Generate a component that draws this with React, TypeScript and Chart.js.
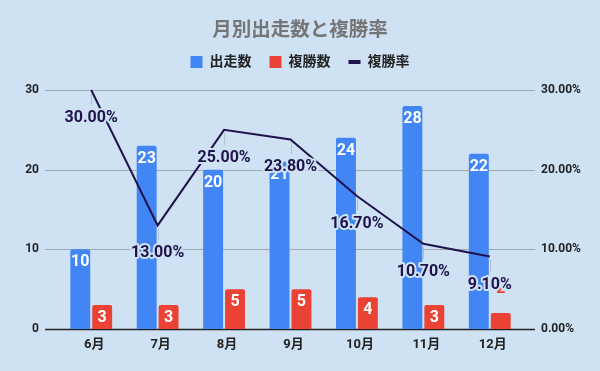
import React, { useEffect, useRef } from "react";
import { Chart, registerables } from "chart.js";

Chart.register(...registerables);

const categories = ["6月", "7月", "8月", "9月", "10月", "11月", "12月"];
const starts = [10, 23, 20, 21, 24, 28, 22];
const placed = [3, 3, 5, 5, 4, 3, 2];
const placeRate = [0.3, 0.13, 0.25, 0.238, 0.167, 0.107, 0.091];
const seriesNames = ["出走数", "複勝数", "複勝率"];
const titleText = "月別出走数と複勝率";

const BG = "#cfe2f3";
const BLUE = "#4285f4";
const RED = "#ea4335";
const NAVY = "#20124d";
const GRID = "#9ea9b4";
const FONT = "Roboto, 'Noto Sans CJK JP', sans-serif";

const fmtPct = (v: number) => (v * 100).toFixed(2) + "%";

const legendSpacer = {
  id: "legendSpacer",
  afterInit(chart: any) {
    const lg = chart.legend;
    if (lg && !lg.__patched) {
      const orig = lg.fit;
      lg.fit = function () {
        orig.call(this);
        this.height += 11;
      };
      lg.__patched = true;
    }
  },
};

const gridPlugin = {
  id: "extGrid",
  beforeDatasetsDraw(chart: any) {
    const { ctx, chartArea } = chart;
    const y = chart.scales.y;
    const x0 = chartArea.left - 13;
    const x1 = chartArea.right + 12;
    ctx.save();
    y.ticks.forEach((t: any) => {
      const py = Math.round(y.getPixelForValue(t.value)) + 0.5;
      ctx.beginPath();
      ctx.strokeStyle = t.value === 0 ? "#222" : GRID;
      ctx.lineWidth = t.value === 0 ? 1.5 : 1;
      ctx.moveTo(x0, py);
      ctx.lineTo(x1, py);
      ctx.stroke();
    });
    ctx.restore();
  },
};

const labelPlugin = {
  id: "valueLabels",
  afterDatasetsDraw(chart: any) {
    const { ctx } = chart;
    ctx.save();
    ctx.textAlign = "center";
    ctx.textBaseline = "middle";
    ctx.font = `bold 16px ${FONT}`;
    [0, 1].forEach((di) => {
      const meta = chart.getDatasetMeta(di);
      const ds = chart.data.datasets[di];
      meta.data.forEach((el: any, j: number) => {
        const v = ds.data[j];
        const h = el.base - el.y;
        if (h >= 22) {
          ctx.fillStyle = "#ffffff";
          ctx.fillText(String(v), el.x, el.y + 13);
        } else {
          ctx.fillStyle = ds.backgroundColor;
          ctx.fillText(String(v), el.x, el.y - 24);
        }
      });
    });
    const lmeta = chart.getDatasetMeta(2);
    const lds = chart.data.datasets[2];
    lmeta.data.forEach((el: any) => {
      ctx.beginPath();
      ctx.strokeStyle = "rgba(160,170,180,0.6)";
      ctx.lineWidth = 1;
      ctx.moveTo(Math.round(el.x) + 0.5, el.y + 3);
      ctx.lineTo(Math.round(el.x) + 0.5, el.y + 15);
      ctx.stroke();
    });
    lmeta.data.forEach((el: any, j: number) => {
      const txt = fmtPct(lds.data[j]);
      const ty = el.y + 28;
      ctx.lineJoin = "round";
      ctx.lineWidth = 4;
      ctx.strokeStyle = BG;
      ctx.strokeText(txt, el.x, ty);
      ctx.fillStyle = NAVY;
      ctx.fillText(txt, el.x, ty);
    });
    ctx.restore();
  },
};

export default function App() {
  const ref = useRef<HTMLCanvasElement | null>(null);

  useEffect(() => {
    if (!ref.current) return;
    const chart = new Chart(ref.current, {
      type: "bar",
      data: {
        labels: categories,
        datasets: [
          {
            type: "bar",
            label: seriesNames[0],
            data: starts,
            backgroundColor: BLUE,
            borderWidth: 0,
            borderRadius: 2,
            borderSkipped: "start",
            categoryPercentage: 0.66,
            barPercentage: 0.909,
            yAxisID: "y",
            pointStyle: "rect",
            order: 2,
          } as any,
          {
            type: "bar",
            label: seriesNames[1],
            data: placed,
            backgroundColor: RED,
            borderWidth: 0,
            borderRadius: 2,
            borderSkipped: "start",
            categoryPercentage: 0.66,
            barPercentage: 0.909,
            yAxisID: "y",
            pointStyle: "rect",
            order: 3,
          } as any,
          {
            type: "line",
            label: seriesNames[2],
            data: placeRate,
            borderColor: NAVY,
            backgroundColor: NAVY,
            borderWidth: 2,
            pointRadius: 0,
            pointStyle: "line",
            tension: 0,
            clip: false,
            yAxisID: "y1",
            order: 1,
          } as any,
        ],
      },
      options: {
        responsive: false,
        animation: false,
        layout: { padding: 0 },
        plugins: {
          tooltip: { enabled: false },
          title: {
            display: true,
            text: titleText,
            color: "#757575",
            font: { family: FONT, size: 19.5, weight: "bold" },
            padding: { top: 19.3, bottom: -5.7 },
          },
          legend: {
            display: true,
            position: "top",
            labels: {
              usePointStyle: true,
              pointStyleWidth: 12,
              boxHeight: 12,
              padding: 18,
              color: "#222",
              font: { family: FONT, size: 14, weight: "bold" },
              sort: (a: any, b: any) => a.datasetIndex - b.datasetIndex,
              generateLabels: (chart: any) => {
                const items = Chart.defaults.plugins.legend.labels.generateLabels(chart);
                items.forEach((it: any) => {
                  if (it.datasetIndex === 2) {
                    it.pointStyle = "line";
                    it.lineWidth = 4;
                    it.strokeStyle = NAVY;
                  } else {
                    it.pointStyle = "rect";
                    it.lineWidth = 0;
                  }
                });
                return items;
              },
            },
          },
        },
        scales: {
          x: {
            grid: { display: false, drawTicks: false },
            border: { display: false },
            ticks: {
              padding: 8,
              labelOffset: 3,
              color: "#222",
              font: { family: FONT, size: 13, weight: "bold" },
            },
            afterFit: (s: any) => {
              s.height = 42;
            },
          },
          y: {
            position: "left",
            min: 0,
            max: 30,
            grid: { display: false, drawTicks: false },
            border: { display: false },
            ticks: {
              stepSize: 10,
              padding: 19,
              color: "#222",
              font: { family: FONT, size: 12, weight: "bold" },
            },
            afterFit: (s: any) => {
              s.width = 58;
            },
          },
          y1: {
            position: "right",
            min: 0,
            max: 0.3,
            grid: { display: false, drawTicks: false },
            border: { display: false },
            ticks: {
              stepSize: 0.1,
              padding: 18,
              color: "#222",
              font: { family: FONT, size: 12, weight: "bold" },
              callback: (v: any) => fmtPct(Number(v)),
            },
            afterFit: (s: any) => {
              s.width = 77;
            },
          },
        },
      },
      plugins: [legendSpacer, gridPlugin, labelPlugin],
    });
    return () => chart.destroy();
  }, []);

  return (
    <div
      style={{
        position: "fixed",
        left: 0,
        top: 0,
        width: 600,
        height: 371,
        background: BG,
      }}
    >
      <canvas ref={ref} width={600} height={371} style={{ display: "block" }} />
    </div>
  );
}
